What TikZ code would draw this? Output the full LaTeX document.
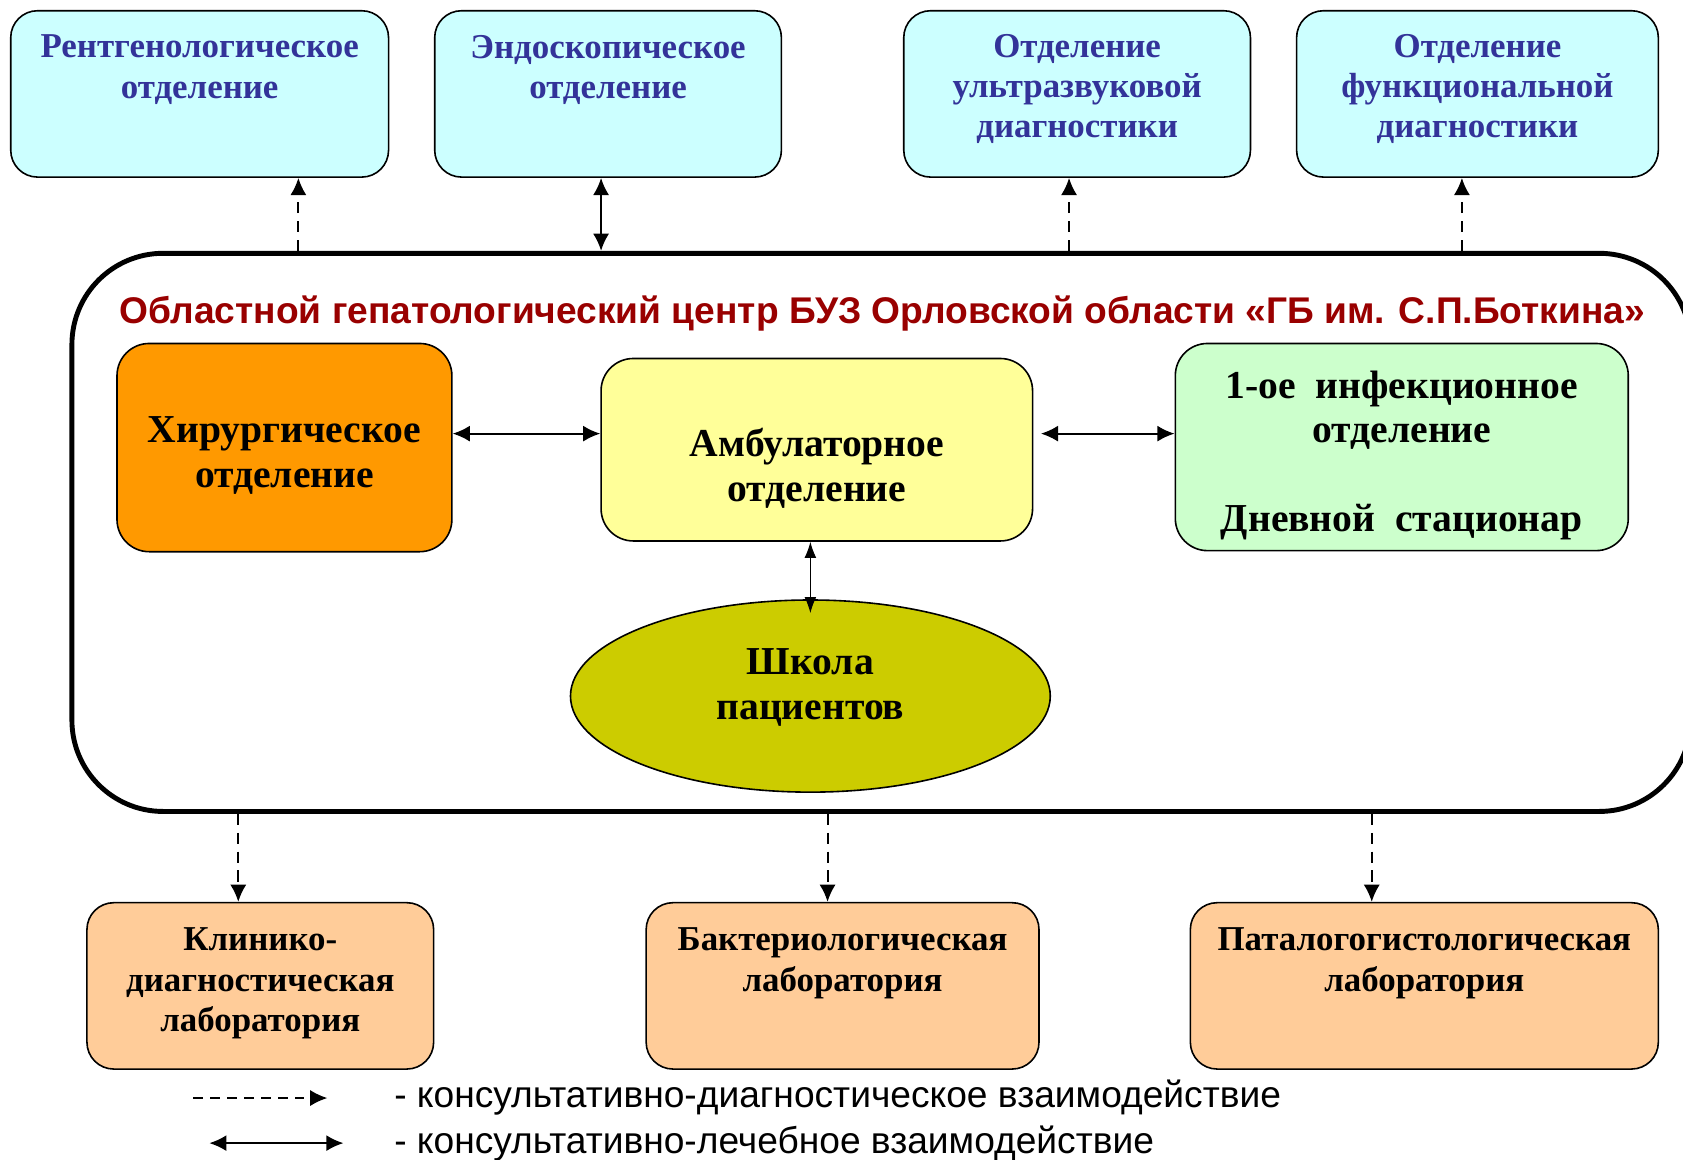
\documentclass[tikz,border=0pt]{standalone}
\usepackage{fontspec}
\setmainfont{Liberation Serif}
\setsansfont{Liberation Sans}
\usetikzlibrary{arrows.meta,positioning,shapes.geometric}
\definecolor{cyanbg}{HTML}{CCFFFF}
\definecolor{bluetxt}{HTML}{333399}
\definecolor{titlered}{HTML}{990000}
\definecolor{orangebg}{HTML}{FF9900}
\definecolor{yellowbg}{HTML}{FFFF99}
\definecolor{greenbg}{HTML}{CCFFCC}
\definecolor{olivebg}{HTML}{CCCC00}
\definecolor{peachbg}{HTML}{FFCC99}
\begin{document}
\begin{tikzpicture}[>={Latex[length=0.32cm,width=0.3cm]},
    box/.style = {draw, line width=0.85pt, rounded corners=0.5cm, minimum height=3.1cm},
    boxtxt/.style = {inner sep=0pt, align=center, font=\fontsize{18.5}{21.3}\selectfont\bfseries},
    mid/.style = {draw, line width=0.85pt, rounded corners=0.6cm},
    midtxt/.style = {inner sep=0pt, align=center, font=\fontsize{21}{23.6}\selectfont\bfseries},
    link/.style = {line width=1.1pt},
    cons/.style = {link, dash pattern=on 6pt off 4pt}]
    \useasboundingbox (0,0) rectangle (31.36,-21.6);

    \node[draw, line width=2.6pt, rounded corners=1.7cm, minimum width=30.16cm,
        minimum height=10.4cm] at (16.42, -9.92) (centre) {};
    \node[font=\fontsize{19.7}{22}\selectfont\sffamily\bfseries, text=titlered] at (16.44, -5.85) (ttl)
        {Областной гепатологический центр БУЗ Орловской области «ГБ им. С.П.Боткина»};

    % diagnostic departments
    \node[box, fill=cyanbg, minimum width=7.04cm] at (3.72, -1.75) (rtg) {};
    \node[box, fill=cyanbg, minimum width=6.46cm] at (11.33, -1.75) (endo) {};
    \node[box, fill=cyanbg, minimum width=6.46cm] at (20.07, -1.75) (uzi) {};
    \node[box, fill=cyanbg, minimum width=6.74cm] at (27.53, -1.75) (func) {};
    \node[boxtxt, text=bluetxt, below=0.46cm of rtg.north] (rtgtxt) {Рентгенологическое\\отделение};
    \node[boxtxt, text=bluetxt, below=0.46cm of endo.north] (endotxt) {Эндоскопическое\\отделение};
    \node[boxtxt, text=bluetxt, below=0.44cm of uzi.north] (uzitxt) {Отделение\\ультразвуковой\\диагностики};
    \node[boxtxt, text=bluetxt, below=0.44cm of func.north] (functxt) {Отделение\\функциональной\\диагностики};

    % departments of the centre
    \node[mid, fill=orangebg, minimum width=6.24cm, minimum height=3.88cm] at (5.3, -8.34) (hir) {};
    \node[midtxt] at (5.3, -8.49) (hirtxt) {Хирургическое\\отделение};
    \node[mid, fill=yellowbg, minimum width=8.04cm, minimum height=3.4cm] at (15.22, -8.38) (amb) {};
    \node[midtxt] at (15.22, -8.73) (ambtxt) {Амбулаторное\\отделение};
    \node[mid, fill=greenbg, minimum width=8.44cm, minimum height=3.86cm] at (26.12, -8.33) (inf) {};
    \node[midtxt] at (26.12, -8.49) (inftxt) {1-ое\ \ инфекционное\\отделение\\ \\Дневной\ \ стационар};
    \node[mid, ellipse, fill=olivebg, minimum width=8.94cm, minimum height=3.58cm] at (15.1, -12.97) (shk) {};
    \node[midtxt] at (15.1, -12.81) (shktxt) {Школа\\пациентов};

    % laboratories
    \node[box, fill=peachbg, minimum width=6.46cm] at (4.85, -18.37) (kld) {};
    \node[box, fill=peachbg, minimum width=7.32cm] at (15.7, -18.37) (bak) {};
    \node[box, fill=peachbg, minimum width=8.72cm] at (26.54, -18.37) (pat) {};
    \node[boxtxt, below=0.48cm of kld.north] (kldtxt) {Клинико-\\диагностическая\\лаборатория};
    \node[boxtxt, below=0.48cm of bak.north] (baktxt) {Бактериологическая\\лаборатория};
    \node[boxtxt, below=0.48cm of pat.north] (pattxt) {Паталогогистологическая\\лаборатория};

    \coordinate (x1) at (5.56, 0);
    \coordinate (x2) at (11.2, 0);
    \coordinate (x3) at (19.92, 0);
    \coordinate (x4) at (27.24, 0);
    \coordinate (x5) at (4.44, 0);
    \coordinate (x6) at (15.42, 0);
    \coordinate (x7) at (25.56, 0);
    \coordinate (lvl) at (0, -8.08);

    \draw[cons, ->] (centre.north -| x1) -- (rtg.south -| x1);
    \draw[link, <->] (centre.north -| x2) -- (endo.south -| x2);
    \draw[cons, ->] (centre.north -| x3) -- (uzi.south -| x3);
    \draw[cons, ->] (centre.north -| x4) -- (func.south -| x4);

    \draw[link, <->] (hir.east |- lvl) -- (amb.west |- lvl);
    \draw[link, <->, shorten <=0.14cm] (amb.east |- lvl) -- (inf.west |- lvl);
    \draw[line width=0.6pt, <->, >={Latex[length=0.3cm,width=0.22cm]}]
        (amb.south -| shk.north) -- ([yshift=-0.26cm]shk.north);

    \draw[cons, ->] (centre.south -| x5) -- (kld.north -| x5);
    \draw[cons, ->] (centre.south -| x6) -- (bak.north -| x6);
    \draw[cons, ->] (centre.south -| x7) -- (pat.north -| x7);

    % legend
    \coordinate (k1) at (3.6, -20.46);
    \coordinate (k2) at (6.1, -20.46);
    \coordinate (k3) at (3.9, -21.3);
    \coordinate (k4) at (6.4, -21.3);
    \draw[line width=1pt, dash pattern=on 5pt off 4pt, ->] (k1) -- (k2);
    \draw[link, <->] (k3) -- (k4);
    \node[anchor=west, inner sep=0pt, font=\fontsize{19.7}{22}\selectfont\sffamily] at (7.34, -20.46) (leg1)
        {- консультативно-диагностическое взаимодействие};
    \node[anchor=west, inner sep=0pt, font=\fontsize{19.7}{22}\selectfont\sffamily] at (7.34, -21.3) (leg2)
        {- консультативно-лечебное взаимодействие};
\end{tikzpicture}
\end{document}
